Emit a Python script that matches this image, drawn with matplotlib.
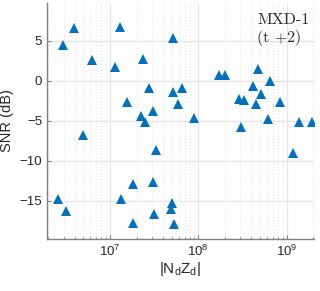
import matplotlib
matplotlib.use("Agg")
import matplotlib.pyplot as plt
from matplotlib.ticker import LogLocator, NullFormatter

# |Nd Zd| values and SNR (dB)
nd_zd = [2.96e6, 3.91e6, 6.30e6, 4.91e6, 2.56e6, 3.15e6,
         1.30e7, 1.15e7, 2.38e7, 1.55e7, 2.24e7, 2.49e7, 2.74e7, 3.09e7,
         3.32e7, 1.81e7, 3.09e7, 1.35e7, 3.15e7, 1.82e7, 4.99e7, 4.94e7,
         5.33e7, 5.13e7, 5.21e7, 6.48e7, 5.93e7, 8.88e7,
         1.71e8, 2.02e8, 4.70e8, 6.47e8, 4.12e8, 5.17e8, 2.90e8, 3.31e8,
         4.46e8, 8.40e8, 6.11e8, 3.06e8, 1.37e9, 1.92e9, 1.18e9]
snr_db = [4.38, 6.55, 2.59, -6.79, -14.79, -16.29,
          6.75, 1.75, 2.71, -2.73, -4.38, -5.16, -0.91, -3.79,
          -8.66, -12.91, -12.70, -14.75, -16.63, -17.79, -15.26, -16.0,
          -17.95, 5.30, -1.41, -0.91, -2.91, -4.66,
          0.71, 0.65, 1.40, 0.0, -0.66, -1.69, -2.35, -2.48,
          -2.94, -2.70, -4.85, -5.75, -5.16, -5.20, -9.08]

y_ticks = [-15, -10, -5, 0, 5]
x_ticks = [1e7, 1e8, 1e9]

fig = plt.figure(figsize=(3.2, 2.91), dpi=100)
ax = fig.add_axes([0.147, 0.179, 0.834, 0.811])

ax.plot(nd_zd, snr_db, linestyle="none", marker="^", markersize=7.8,
        color="#0072BD", markeredgewidth=0, zorder=3)

ax.set_xscale("log")
ax.set_xlim(1.94e6, 2.04e9)
ax.set_ylim(-19.8, 9.7)
ax.set_xticks(x_ticks)
ax.set_yticks(y_ticks)
ax.xaxis.set_minor_locator(LogLocator(base=10, subs=range(2, 10), numticks=20))
ax.xaxis.set_minor_formatter(NullFormatter())

ax.grid(True, which="major", color="#e6e6e6", linewidth=1.0, linestyle="-", zorder=0)
ax.grid(True, which="minor", axis="x", color="#c4c4c4", linewidth=0.5,
        linestyle=(0, (1, 3.5)), zorder=0)
ax.set_axisbelow(True)

for side in ["top", "right"]:
    ax.spines[side].set_visible(False)
for side in ["left", "bottom"]:
    ax.spines[side].set_color("#808080")
    ax.spines[side].set_linewidth(1.0)

ax.tick_params(which="both", direction="in", colors="#808080",
               labelcolor="#262626", labelsize=9.5, length=3, width=0.8)
ax.tick_params(which="minor", length=1.8)
ax.tick_params(axis="y", which="minor", left=False)
for lbl in ax.get_xticklabels() + ax.get_yticklabels():
    lbl.set_fontfamily("Liberation Sans")

ax.set_ylabel("SNR (dB)", fontsize=10.5, family="Liberation Sans",
              color="#262626", labelpad=4)
ax.set_xlabel(r"|N$_\mathregular{d}$Z$_\mathregular{d}$|", fontsize=11,
              family="Liberation Sans", color="#262626", labelpad=1)

ax.text(0.787, 0.955, "MXD-1\n(t +2)", transform=ax.transAxes,
        fontsize=11.5, family="cmr10", ha="left", va="top",
        linespacing=1.25, color="#262626")

fig.savefig("out.png", dpi=100)
